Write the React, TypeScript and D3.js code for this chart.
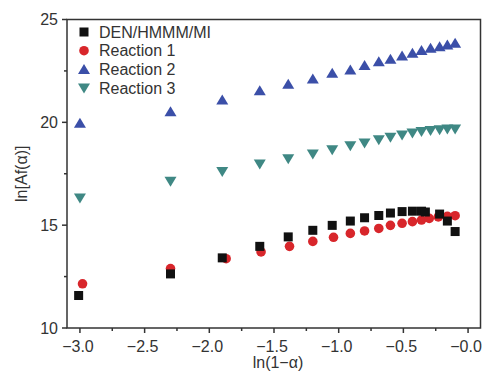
import React from "react";
import * as d3 from "d3";

const xMajor = [-3.0, -2.5, -2.0, -1.5, -1.0, -0.5, 0.0];
const xMinor = [-2.75, -2.25, -1.75, -1.25, -0.75, -0.25];
const yMajor = [10, 15, 20, 25];
const yMinor = [12.5, 17.5, 22.5];

const xShared = [-3.0, -2.3, -1.9, -1.61, -1.39, -1.2, -1.05, -0.91, -0.8, -0.69, -0.6, -0.51, -0.43, -0.36, -0.29, -0.22, -0.16, -0.1];
const xDen = [-3.01, -2.3, -1.9, -1.61, -1.39, -1.2, -1.05, -0.91, -0.8, -0.69, -0.6, -0.51, -0.43, -0.36, -0.33, -0.22, -0.16, -0.1];
const xR1 = [-2.98, -2.3, -1.87, -1.6, -1.38, -1.2, -1.04, -0.91, -0.8, -0.69, -0.6, -0.51, -0.43, -0.36, -0.3, -0.23, -0.16, -0.1];

const denVals = [11.58, 12.63, 13.41, 13.97, 14.43, 14.75, 14.99, 15.2, 15.36, 15.47, 15.59, 15.66, 15.68, 15.68, 15.64, 15.54, 15.2, 14.69];
const r1Vals = [12.15, 12.89, 13.37, 13.7, 13.97, 14.21, 14.41, 14.6, 14.72, 14.84, 14.99, 15.09, 15.17, 15.25, 15.33, 15.4, 15.43, 15.46];
const r2Vals = [19.96, 20.52, 21.09, 21.53, 21.85, 22.11, 22.39, 22.55, 22.76, 22.95, 23.07, 23.23, 23.36, 23.49, 23.6, 23.68, 23.76, 23.84];
const r3Vals = [16.32, 17.13, 17.61, 17.97, 18.23, 18.46, 18.67, 18.86, 18.99, 19.15, 19.28, 19.39, 19.48, 19.55, 19.6, 19.64, 19.67, 19.68];

const legendLabels = ["DEN/HMMM/MI", "Reaction 1", "Reaction 2", "Reaction 3"];

const W = 482, H = 376;
const L = 67, R = 481, T = 19.5, B = 328;
const FONT = "'Liberation Sans', Arial, sans-serif";
const AXIS = "#333";

const C_BLACK = "#111111";
const C_RED = "#d8262b";
const C_BLUE = "#3b4fa8";
const C_TEAL = "#3f8884";

type Kind = "square" | "circle" | "up" | "down";

function Marker({ kind, cx, cy, color }: { kind: Kind; cx: number; cy: number; color: string }) {
  if (kind === "square") return <rect x={cx - 4.5} y={cy - 4.5} width={9} height={9} fill={color} />;
  if (kind === "circle") return <circle cx={cx} cy={cy} r={4.8} fill={color} />;
  if (kind === "up") {
    const p = d3.path();
    p.moveTo(cx, cy - 5.5); p.lineTo(cx + 6, cy + 4.5); p.lineTo(cx - 6, cy + 4.5); p.closePath();
    return <path d={p.toString()} fill={color} />;
  }
  const p = d3.path();
  p.moveTo(cx, cy + 5.5); p.lineTo(cx + 6, cy - 4.5); p.lineTo(cx - 6, cy - 4.5); p.closePath();
  return <path d={p.toString()} fill={color} />;
}

export default function App() {
  const x = d3.scaleLinear().domain([-3.1, 0.1]).range([L, R]);
  const y = d3.scaleLinear().domain([10, 25]).range([B, T]);

  const series: { xs: number[]; ys: number[]; kind: Kind; color: string }[] = [
    { xs: xR1, ys: r1Vals, kind: "circle", color: C_RED },
    { xs: xDen, ys: denVals, kind: "square", color: C_BLACK },
    { xs: xShared, ys: r2Vals, kind: "up", color: C_BLUE },
    { xs: xShared, ys: r3Vals, kind: "down", color: C_TEAL },
  ];
  const legendKinds: Kind[] = ["square", "circle", "up", "down"];
  const legendColors = [C_BLACK, C_RED, C_BLUE, C_TEAL];
  const fmt = (v: number) => (v <= 0 ? "\u2212" + Math.abs(v).toFixed(1) : v.toFixed(1));

  return (
    <div style={{ position: "absolute", left: 0, top: 0, width: W, height: H, overflow: "hidden" }}>
      <svg width={W} height={H} viewBox={`0 0 ${W} ${H}`} style={{ display: "block", background: "#fff" }}>
        {series.map((s, si) =>
          s.ys.map((v, i) => <Marker key={si + "-" + i} kind={s.kind} cx={x(s.xs[i])} cy={y(v)} color={s.color} />)
        )}
        <rect x={L} y={T} width={R - L - 0.5} height={B - T} fill="none" stroke={AXIS} strokeWidth={1.5} />
        {xMajor.map((t) => (
          <g key={"xm" + t}>
            <line x1={x(t)} x2={x(t)} y1={B} y2={B + 5} stroke={AXIS} strokeWidth={1.5} />
            <text x={x(t) - 2} y={352} textAnchor="middle" fontFamily={FONT} fontSize={16} fill={AXIS}>{fmt(t)}</text>
          </g>
        ))}
        {xMinor.map((t) => (
          <line key={"xn" + t} x1={x(t)} x2={x(t)} y1={B} y2={B + 3} stroke={AXIS} strokeWidth={1.5} />
        ))}
        {yMajor.map((t) => (
          <g key={"ym" + t}>
            <line x1={L - 5} x2={L} y1={y(t)} y2={y(t)} stroke={AXIS} strokeWidth={1.5} />
            <text x={L - 9} y={y(t) + 5.5} textAnchor="end" fontFamily={FONT} fontSize={16} fill={AXIS}>{t}</text>
          </g>
        ))}
        {yMinor.map((t) => (
          <line key={"yn" + t} x1={L - 3} x2={L} y1={y(t)} y2={y(t)} stroke={AXIS} strokeWidth={1.5} />
        ))}
        <text x={(L + R) / 2 + 4} y={368} textAnchor="middle" fontFamily={FONT} fontSize={16} fill={AXIS}>ln(1−α)</text>
        <text transform={`translate(27, ${(T + B) / 2}) rotate(-90)`} textAnchor="middle" fontFamily={FONT} fontSize={16} fill={AXIS}>ln[Af(α)]</text>
        {legendLabels.map((lab, i) => (
          <g key={"lg" + i}>
            <Marker kind={legendKinds[i]} cx={84} cy={32 + i * 18.7} color={legendColors[i]} />
            <text x={99} y={32 + i * 18.7 + 5.5} fontFamily={FONT} fontSize={16} fill={AXIS}>{lab}</text>
          </g>
        ))}
      </svg>
    </div>
  );
}
